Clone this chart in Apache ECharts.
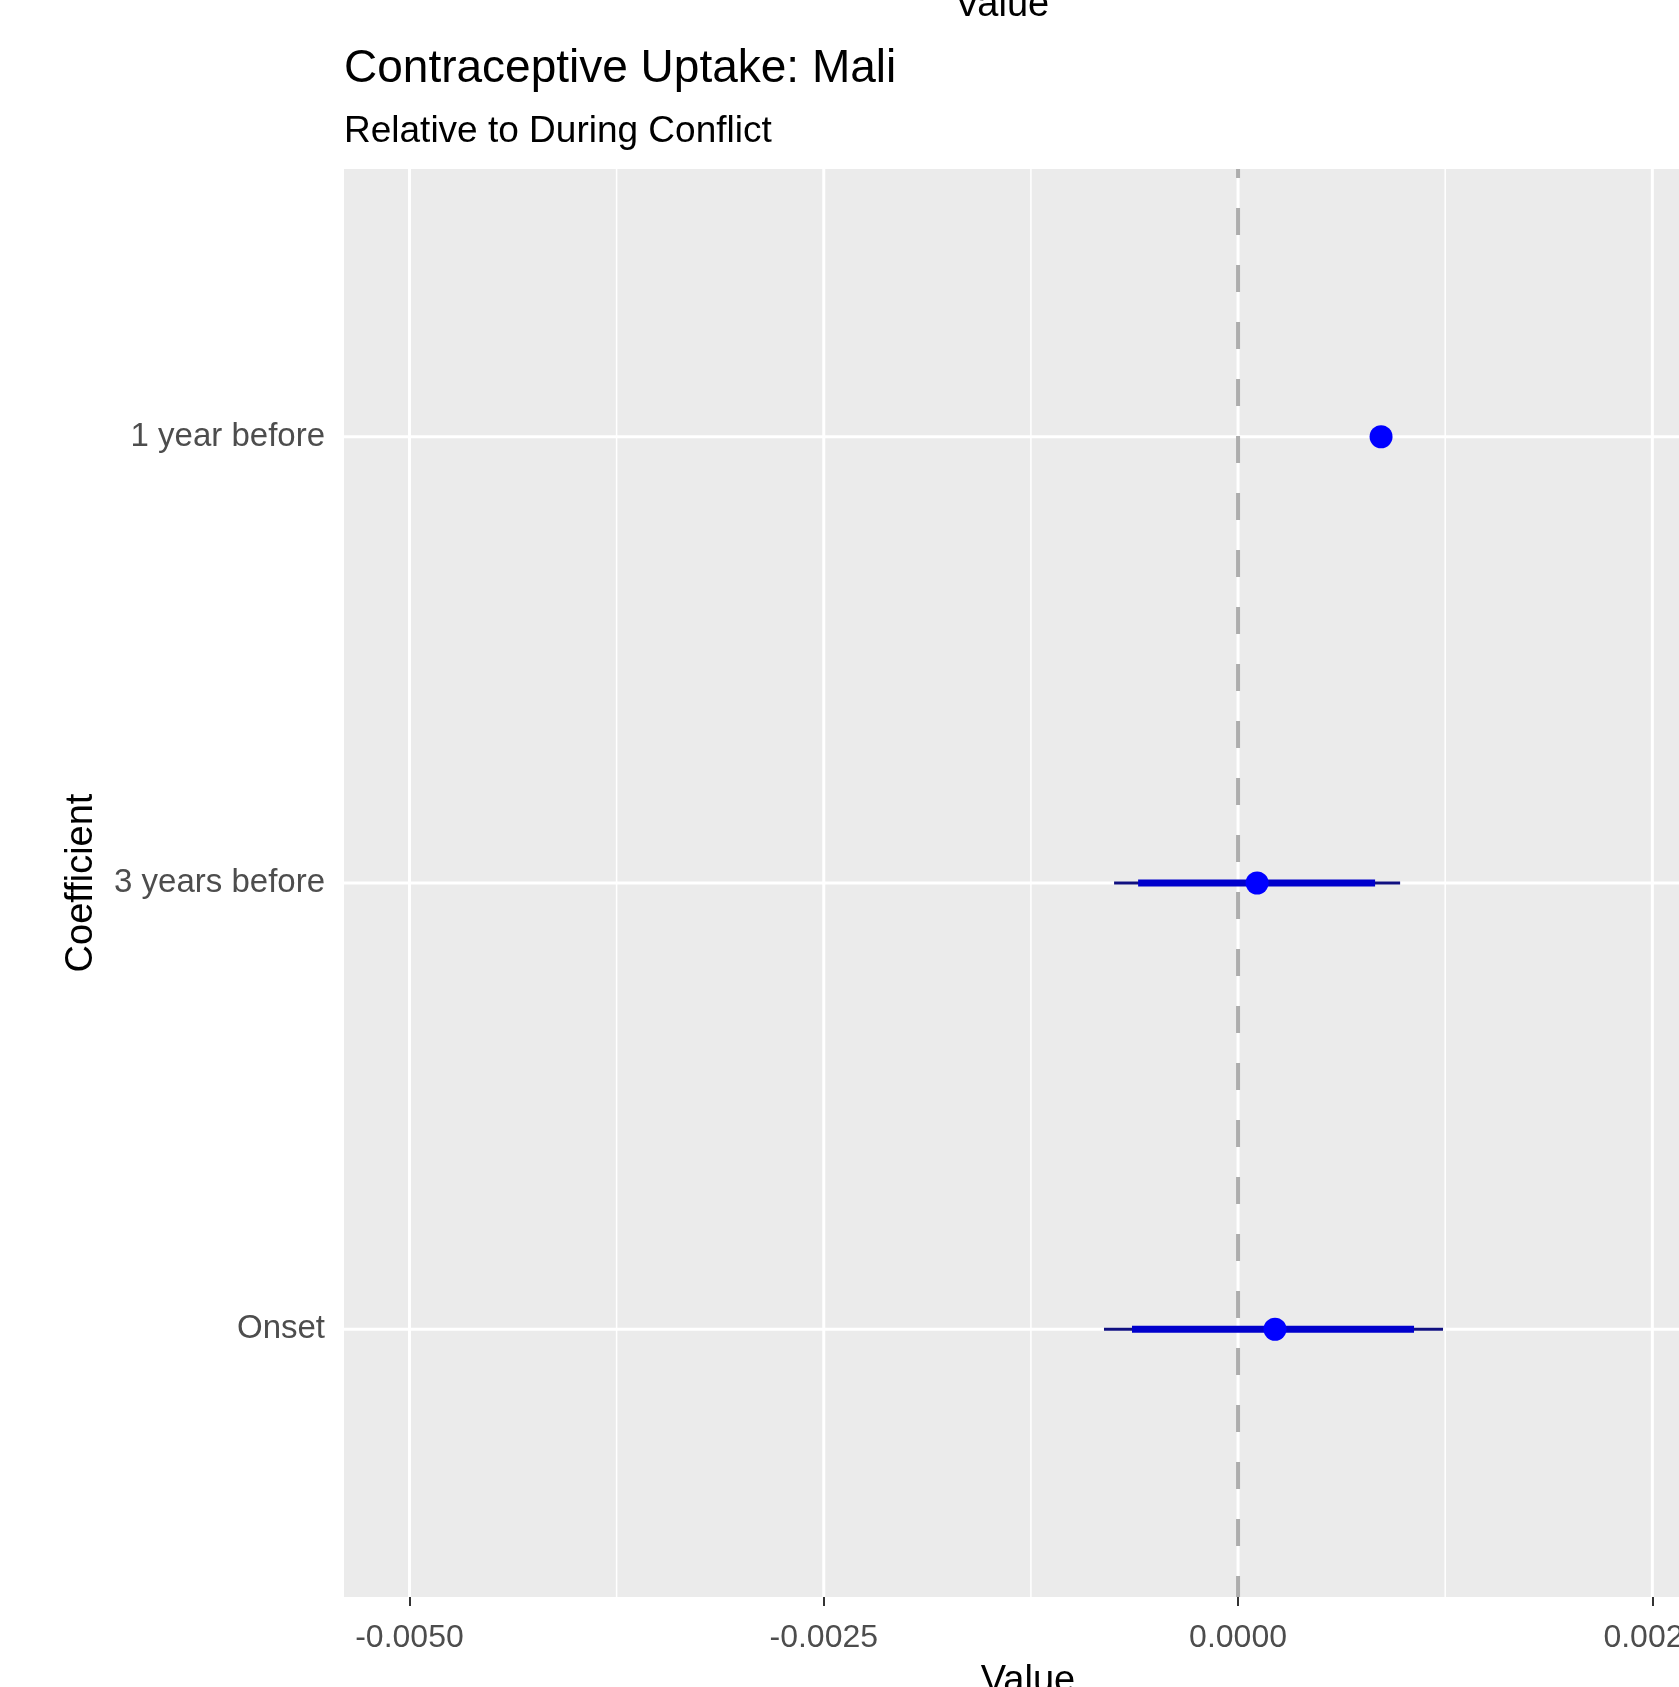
<!DOCTYPE html>
<html>
<head>
<meta charset="utf-8">
<script src="https://cdn.jsdelivr.net/npm/echarts@6/dist/echarts.min.js"></script>
<style>
html,body{margin:0;padding:0;background:#fff;overflow:hidden;}
#chart{width:1679px;height:1687px;}
</style>
</head>
<body>
<div id="chart"></div>
<script>
// Categories bottom-to-top (positions 1,2,3 on the y scale)
const categories = ['Onset', '3 years before', '1 year before'];
const estimates  = [0.000223, 0.000115, 0.000863];
const innerLow   = [-0.000640, -0.000603, null];
const innerHigh  = [0.001062, 0.000827, null];
const outerLow   = [-0.000809, -0.000748, null];
const outerHigh  = [0.001237, 0.000978, null];
const xTickValues = [-0.005, -0.0025, 0, 0.0025];
const xMinorValues = [-0.00375, -0.00125, 0.00125];
const yPositions = [1, 2, 3];

const X_MIN = -0.005395, X_MAX = 0.00286, Y_MIN = 0.4, Y_MAX = 3.6;
const FONT = "'Liberation Sans', Arial, sans-serif";

const chart = echarts.init(document.getElementById('chart'), null, {renderer: 'canvas'});

function segSeries(name, lows, highs, color, width, z) {
  const data = [];
  categories.forEach((c, i) => {
    if (lows[i] != null && highs[i] != null) data.push([lows[i], highs[i], yPositions[i]]);
  });
  return {
    name, type: 'custom', z, silent: true,
    data,
    encode: {x: [0, 1], y: 2},
    renderItem: (params, api) => {
      const p1 = api.coord([api.value(0), api.value(2)]);
      const p2 = api.coord([api.value(1), api.value(2)]);
      return {type: 'line', shape: {x1: p1[0], y1: p1[1], x2: p2[0], y2: p2[1]},
              style: {stroke: color, lineWidth: width, lineCap: 'butt'}};
    }
  };
}

function gridSeries(name, values, vertical, width, z) {
  return {
    name, type: 'custom', z, silent: true,
    data: values.map(v => [v]),
    renderItem: (params, api) => {
      const v = api.value(0);
      let p1, p2;
      if (vertical) { p1 = api.coord([v, Y_MIN]); p2 = api.coord([v, Y_MAX]); }
      else { p1 = api.coord([X_MIN, v]); p2 = api.coord([X_MAX, v]); }
      return {type: 'line', shape: {x1: p1[0], y1: p1[1], x2: p2[0], y2: p2[1]},
              style: {stroke: '#FFFFFF', lineWidth: width}};
    }
  };
}

const option = {
  backgroundColor: '#FFFFFF',
  animation: false,
  title: [
    {text: 'Contraceptive Uptake: Mali', left: 344, top: 46, padding: 0,
     textStyle: {fontFamily: FONT, fontSize: 46, fontWeight: 'normal', color: '#000000'}},
    {text: 'Relative to During Conflict', left: 344, top: 113, padding: 0,
     textStyle: {fontFamily: FONT, fontSize: 37, fontWeight: 'normal', color: '#000000'}}
  ],
  graphic: [
    {type: 'text', x: 1002, y: 25, silent: true,
     style: {text: 'Value', fontFamily: FONT, fontSize: 38, fill: '#000000',
             align: 'center', verticalAlign: 'bottom'}}
  ],
  grid: {left: 344, top: 169, right: -33, bottom: 90, show: true,
         backgroundColor: '#EBEBEB', borderWidth: 0, containLabel: false,
         outerBoundsMode: 'none'},
  xAxis: {
    type: 'value', min: X_MIN, max: X_MAX,
    name: 'Value', nameLocation: 'middle', nameGap: 66,
    nameTextStyle: {fontFamily: FONT, fontSize: 38, color: '#000000'},
    axisLine: {show: false},
    axisTick: {show: true, length: 9, lineStyle: {color: '#333333', width: 2}, customValues: xTickValues},
    axisLabel: {show: true, customValues: xTickValues, margin: 25, hideOverlap: false,
                showMinLabel: true, showMaxLabel: true,
                fontFamily: FONT, fontSize: 32, color: '#4D4D4D',
                formatter: v => Number(v).toFixed(4)},
    splitLine: {show: false}
  },
  yAxis: {
    type: 'value', min: Y_MIN, max: Y_MAX,
    name: 'Coefficient', nameLocation: 'middle', nameGap: 243,
    nameTextStyle: {fontFamily: FONT, fontSize: 38, color: '#000000'},
    axisLine: {show: false},
    axisTick: {show: true, length: 9, lineStyle: {color: '#333333', width: 2}, customValues: yPositions},
    axisLabel: {show: true, customValues: yPositions, margin: 19, padding: [9, 0, 0, 0],
                fontFamily: FONT, fontSize: 33, color: '#4D4D4D',
                formatter: v => categories[Math.round(v) - 1] || ''},
    splitLine: {show: false}
  },
  series: [
    gridSeries('minorX', xMinorValues, true, 1.5, 1),
    gridSeries('majorX', xTickValues, true, 3, 1),
    gridSeries('majorY', yPositions, false, 3, 1),
    {
      name: 'zero', type: 'line', z: 2, silent: true, symbol: 'none',
      data: [[0, Y_MIN], [0, Y_MAX]],
      lineStyle: {color: '#ADADAD', width: 4, type: [27, 30], dashOffset: 6}
    },
    segSeries('outer', outerLow, outerHigh, '#101080', 3, 3),
    segSeries('inner', innerLow, innerHigh, '#0000CC', 7, 4),
    {
      name: 'estimate', type: 'scatter', z: 5, silent: true,
      symbol: 'circle', symbolSize: 23,
      itemStyle: {color: '#0000FF', opacity: 1},
      data: estimates.map((v, i) => [v, yPositions[i]])
    }
  ]
};
chart.setOption(option);
</script>
</body>
</html>
